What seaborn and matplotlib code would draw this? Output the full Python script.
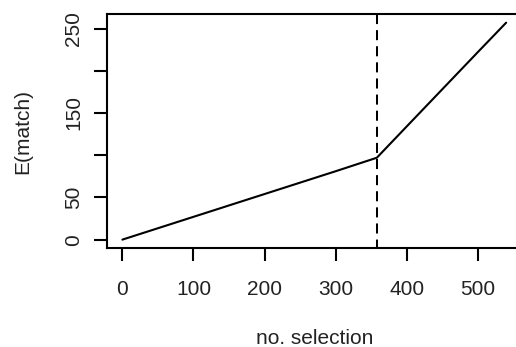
import matplotlib
matplotlib.use("Agg")
import matplotlib.pyplot as plt
import seaborn as sns
import pandas as pd

# data
n_selection = [0, 100, 200, 300, 358, 400, 450, 500, 540]
e_match = [0, 27, 54, 81, 97, 134, 178, 222, 257]
cutoff = [358]
x_ticks = [0, 100, 200, 300, 400, 500]
y_ticks = [0, 50, 100, 150, 200, 250]
y_tick_labels = ["0", "50", "", "150", "", "250"]

sns.set_style("white")
plt.rcParams["font.family"] = ["Liberation Sans", "DejaVu Sans"]

df = pd.DataFrame({"x": n_selection, "y": e_match})

fig = plt.figure(figsize=(5.16, 3.47), dpi=100)
ax = fig.add_axes([0.2074, 0.2844, 0.8033, 0.6753])

sns.lineplot(data=df, x="x", y="y", ax=ax, color="black", linewidth=1.5)
for c in cutoff:
    ax.plot([c, c], [1, 0], transform=ax.get_xaxis_transform(), color="black",
            linewidth=1.45, linestyle=(0, (5, 3)))

xr = max(n_selection) - min(n_selection)
yr = max(e_match) - min(e_match)
ax.set_xlim(min(n_selection) - 0.04 * xr, max(n_selection) + 0.04 * xr)
ax.set_ylim(min(e_match) - 0.04 * yr, max(e_match) + 0.04 * yr)

ax.set_xticks(x_ticks)
ax.set_xticklabels([str(v) for v in x_ticks])
ax.set_yticks(y_ticks)
ax.set_yticklabels(y_tick_labels, rotation=90, va="center")

for s in ax.spines.values():
    s.set_color("black")
    s.set_linewidth(1.5)
ax.tick_params(axis="both", direction="out", length=9.5, width=1.5, color="black",
               labelsize=15, labelcolor="#222222", bottom=True, left=True)
ax.tick_params(axis="x", pad=13)
ax.tick_params(axis="y", pad=7.5)
ax.set_xlabel("no. selection", fontsize=15, color="#222222", labelpad=22)
ax.set_ylabel("E(match)", fontsize=15, color="#222222", labelpad=23.5)

fig.savefig("out.png", dpi=100)
